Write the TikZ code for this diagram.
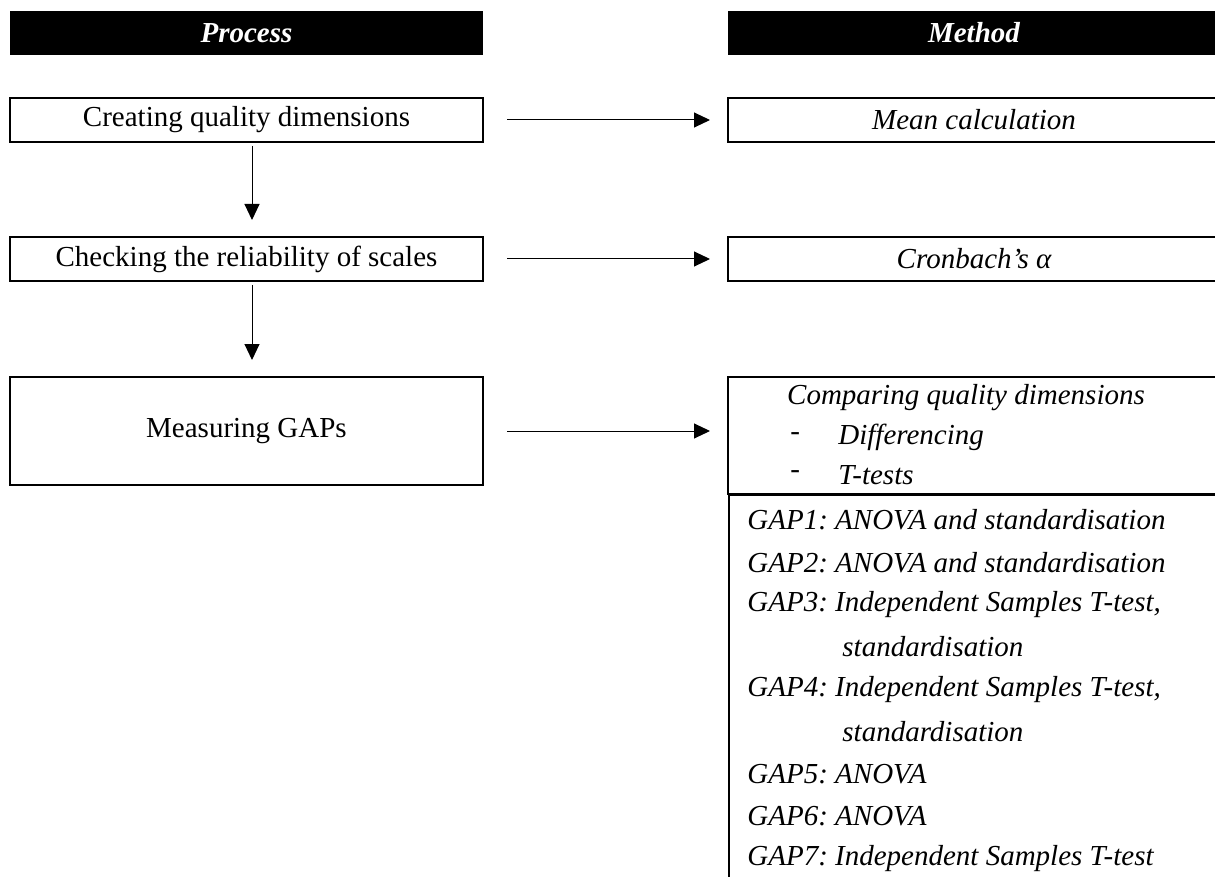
\documentclass[tikz,border=0pt]{standalone}
\usepackage{fontspec}
\setmainfont{Liberation Serif}
\usetikzlibrary{positioning, arrows.meta}

\begin{document}
\begin{tikzpicture}[
    x=0.5pt, y=-0.5pt,
    every node/.style={font=\fontsize{14.5}{17}\selectfont},
    header/.style={fill=black, text=white, minimum height=22pt, inner sep=0pt, font=\fontsize{14.5}{17}\selectfont\bfseries\itshape},
    procbox/.style={draw, line width=1pt, minimum width=236.5pt, minimum height=22pt, inner sep=0pt},
    methbox/.style={draw, line width=1pt, minimum width=246pt, minimum height=22pt, inner sep=0pt, font=\fontsize{14.5}{17}\selectfont\itshape},
    methline/.style={anchor=west, inner sep=0pt, font=\fontsize{14.5}{17}\selectfont\itshape\frenchspacing},
    flow/.style={-{Triangle[length=8pt, width=7.5pt]}, line width=0.5pt}
]
  \useasboundingbox (0,0) rectangle (1215,877);
  \clip (0,0) rectangle (1215,877);

  % Column headers
  \node[header, minimum width=236.5pt] (hproc) at (246.5,33) {Process};
  \node[header, minimum width=246pt] (hmeth) at (974,33) {Method};

  % Process steps
  \node[procbox] (crt) at (246.5,120) {Creating quality dimensions};
  \node[procbox] (chk) at (246.5,259) {Checking the reliability of scales};
  \node[procbox, minimum height=54pt] (msr) at (246.5,431) {Measuring GAPs};

  % Methods
  \node[methbox] (mean) at (974,120) {Mean calculation};
  \node[methbox] (cron) at (974,259) {Cronbach’s α};
  \node[methbox, minimum height=58.5pt] (cmpbox) at (974,435.5) {};
  \node[methbox, minimum height=210pt, anchor=north west] (gapbox) at (728,494) {};

  % Comparing quality dimensions
  \node[methline, anchor=center] (cmp) at (966,398) {Comparing quality dimensions};
  \node[methline, font=\fontsize{14.5}{17}\selectfont] (dsh1) at (790,437) {-};
  \node[methline] (diff) at (838,437) {Differencing};
  \node[methline, font=\fontsize{14.5}{17}\selectfont] (dsh2) at (790,475) {-};
  \node[methline] (ttst) at (838,475) {T-tests};

  % GAP methods
  \foreach \i/\x/\t in {0/747/GAP1: ANOVA and standardisation,
                        1/747/GAP2: ANOVA and standardisation,
                        2/747/{GAP3: Independent Samples T-test,},
                        3/842/standardisation,
                        4/747/{GAP4: Independent Samples T-test,},
                        5/842/standardisation,
                        6/747/GAP5: ANOVA,
                        7/747/GAP6: ANOVA,
                        8/747/GAP7: Independent Samples T-test}{
    \node[methline] (gap\i) at (\x,520+42.3*\i) {\t};
  }

  % Connectors
  \draw[flow, shorten <=1.5pt, shorten >=8pt] ([xshift=2.75pt]crt.south) -- ([xshift=2.75pt]chk.north);
  \draw[flow, shorten <=1.5pt, shorten >=8pt] ([xshift=2.75pt]chk.south) -- ([xshift=2.75pt]msr.north);
  \draw[flow, shorten <=11.5pt, shorten >=8.5pt] (crt.east) -- (mean.west);
  \draw[flow, shorten <=11.5pt, shorten >=8.5pt] (chk.east) -- (cron.west);
  \draw[flow, shorten <=11.5pt, shorten >=8.5pt] (msr.east) -- (msr.east -| cmpbox.west);
\end{tikzpicture}
\end{document}
